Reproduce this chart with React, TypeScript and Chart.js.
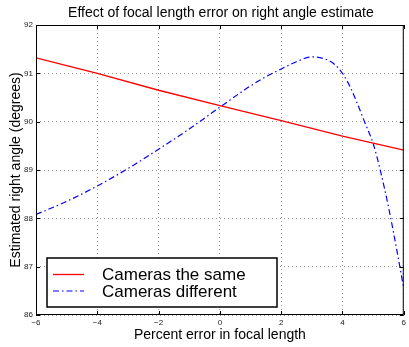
import React, { useEffect, useRef } from "react";
import { Chart, registerables } from "chart.js";

Chart.register(...registerables);

const sameX = [-6, -4, -2, 0, 2, 4, 6];
const sameY = [91.32, 91.0, 90.65, 90.33, 90.02, 89.7, 89.41];

const diffX = [-6, -5, -4, -3, -2, -1, 0, 1, 1.5, 2, 2.5, 3, 3.5, 3.75, 4, 4.25, 4.5, 4.75, 5, 5.25, 5.5, 5.75, 6];
const diffY = [88.08, 88.35, 88.67, 89.03, 89.43, 89.85, 90.3, 90.74, 90.93, 91.09, 91.24, 91.34, 91.28, 91.18, 91.0, 90.72, 90.35, 89.95, 89.55, 88.95, 88.24, 87.42, 86.55];

const seriesLabels = ["Cameras the same", "Cameras different"];
const xTicks = [-6, -4, -2, 0, 2, 4, 6];
const yTicks = [86, 87, 88, 89, 90, 91, 92];

const titleText = "Effect of focal length error on right angle estimate";
const xTitle = "Percent error in focal length";
const yTitle = "Estimated right angle (degrees)";

const FONT = "'Liberation Sans', Arial, Helvetica, sans-serif";

const framePlugin = {
  id: "frame",
  afterDraw(chart: any) {
    const ctx = chart.ctx;
    const { left, right, top, bottom } = chart.chartArea;
    const xs = chart.scales.x;
    const ys = chart.scales.y;
    ctx.save();
    ctx.strokeStyle = "#000";
    ctx.lineWidth = 1;
    ctx.setLineDash([]);
    ctx.strokeRect(left + 0.5, top + 0.5, right - left - 1, bottom - top - 1);
    const tl = 4;
    ctx.beginPath();
    xTicks.forEach((v) => {
      const px = Math.round(xs.getPixelForValue(v)) + 0.5;
      ctx.moveTo(px, bottom);
      ctx.lineTo(px, bottom - tl);
      ctx.moveTo(px, top);
      ctx.lineTo(px, top + tl);
    });
    yTicks.forEach((v) => {
      const py = Math.round(ys.getPixelForValue(v)) + 0.5;
      ctx.moveTo(left, py);
      ctx.lineTo(left + tl, py);
      ctx.moveTo(right, py);
      ctx.lineTo(right - tl, py);
    });
    ctx.stroke();

    ctx.fillStyle = "#000";
    ctx.textAlign = "center";
    ctx.textBaseline = "middle";
    ctx.font = `14px ${FONT}`;
    ctx.fillText(titleText, (left + right) / 2 + 1, 13);
    ctx.font = `14px ${FONT}`;
    ctx.fillText(xTitle, (left + right) / 2, 335);
    ctx.save();
    ctx.translate(16, (top + bottom) / 2);
    ctx.rotate(-Math.PI / 2);
    ctx.fillText(yTitle, 0, 0);
    ctx.restore();

    const bx = 47, by = 258, bw = 230, bh = 49;
    ctx.fillStyle = "#fff";
    ctx.fillRect(bx, by, bw, bh);
    ctx.strokeStyle = "#000";
    ctx.lineWidth = 1.5;
    ctx.strokeRect(bx, by, bw, bh);
    const rows = [274.5, 291];
    chart.data.datasets.forEach((ds: any, i: number) => {
      ctx.strokeStyle = ds.borderColor;
      ctx.lineWidth = ds.borderWidth;
      ctx.setLineDash(ds.borderDash || []);
      ctx.beginPath();
      ctx.moveTo(53, rows[i]);
      ctx.lineTo(84, rows[i]);
      ctx.stroke();
      ctx.setLineDash([]);
      ctx.fillStyle = "#000";
      ctx.textAlign = "left";
      ctx.font = `17px ${FONT}`;
      ctx.fillText(ds.label, 102, rows[i] + 1);
    });
    ctx.restore();
  },
};

const fmt = (v: number) => (v < 0 ? "\u2212" + Math.abs(v) : String(v));

export default function App() {
  const ref = useRef<HTMLCanvasElement | null>(null);
  useEffect(() => {
    if (!ref.current) return;
    const chart = new Chart(ref.current, {
      type: "line",
      data: {
        datasets: [
          {
            label: seriesLabels[0],
            data: sameX.map((x, i) => ({ x, y: sameY[i] })),
            borderColor: "#ff0000",
            borderWidth: 1.3,
            pointRadius: 0,
            fill: false,
          },
          {
            label: seriesLabels[1],
            data: diffX.map((x, i) => ({ x, y: diffY[i] })),
            borderColor: "#0000ff",
            borderWidth: 1.2,
            borderDash: [6, 3, 1.5, 3],
            pointRadius: 0,
            fill: false,
            cubicInterpolationMode: "monotone",
          },
        ],
      },
      options: {
        responsive: false,
        animation: false,
        layout: { padding: { top: 25, right: 5, left: 0, bottom: 0 } },
        plugins: {
          legend: { display: false },
          title: { display: false },
          tooltip: { enabled: false },
        },
        scales: {
          x: {
            type: "linear",
            min: -6,
            max: 6,
            afterFit: (s: any) => {
              s.height = 32;
            },
            afterBuildTicks: (s: any) => {
              s.ticks = xTicks.map((v) => ({ value: v }));
            },
            ticks: {
              callback: (v: any) => fmt(Number(v)),
              font: { family: FONT, size: 8 },
              color: "#222",
              padding: 3,
              maxRotation: 0,
            },
            grid: { color: "#999", lineWidth: 1, drawTicks: false },
            border: { display: false, dash: [1, 3] },
          },
          y: {
            type: "linear",
            min: 86,
            max: 92,
            afterFit: (s: any) => {
              s.width = 36;
            },
            afterBuildTicks: (s: any) => {
              s.ticks = yTicks.map((v) => ({ value: v }));
            },
            ticks: {
              callback: (v: any) => fmt(Number(v)),
              font: { family: FONT, size: 8 },
              color: "#222",
              padding: 3,
            },
            grid: { color: "#999", lineWidth: 1, drawTicks: false },
            border: { display: false, dash: [1, 3] },
          },
        },
      },
      plugins: [framePlugin],
    } as any);
    return () => chart.destroy();
  }, []);
  return (
    <div style={{ position: "absolute", left: 0, top: 0, width: 409, height: 347, background: "#fff" }}>
      <canvas ref={ref} width={409} height={347} />
    </div>
  );
}
